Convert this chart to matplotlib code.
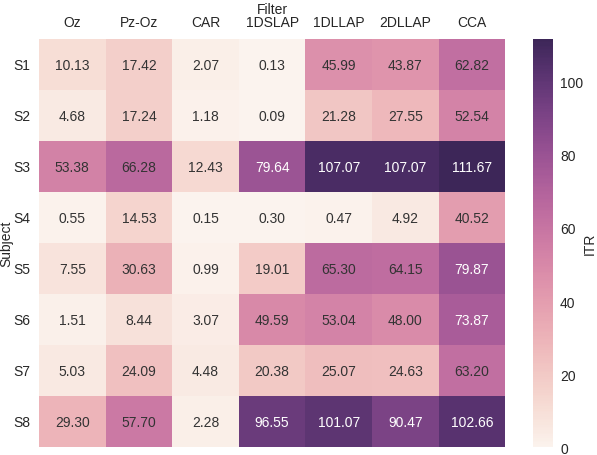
import numpy as np
import matplotlib
matplotlib.use("Agg")
import matplotlib.pyplot as plt
import seaborn as sns

filters = ["Oz", "Pz-Oz", "CAR", "1DSLAP", "1DLLAP", "2DLLAP", "CCA"]
subjects = ["S1", "S2", "S3", "S4", "S5", "S6", "S7", "S8"]
oz     = [10.13, 4.68, 53.38, 0.55, 7.55, 1.51, 5.03, 29.30]
pz_oz  = [17.42, 17.24, 66.28, 14.53, 30.63, 8.44, 24.09, 57.70]
car    = [2.07, 1.18, 12.43, 0.15, 0.99, 3.07, 4.48, 2.28]
dslap1 = [0.13, 0.09, 79.64, 0.30, 19.01, 49.59, 20.38, 96.55]
dllap1 = [45.99, 21.28, 107.07, 0.47, 65.30, 53.04, 25.07, 101.07]
dllap2 = [43.87, 27.55, 107.07, 4.92, 64.15, 48.00, 24.63, 90.47]
cca    = [62.82, 52.54, 111.67, 40.52, 79.87, 73.87, 63.20, 102.66]

data = np.array([oz, pz_oz, car, dslap1, dllap1, dllap2, cca]).T

sns.set_style("white")
plt.rcParams['font.family'] = ['Liberation Sans', 'DejaVu Sans']
plt.rcParams['text.color'] = '.15'
plt.rcParams['axes.labelcolor'] = '.15'
plt.rcParams['xtick.color'] = '.15'
plt.rcParams['ytick.color'] = '.15'

fig = plt.figure(figsize=(5.97, 4.56), dpi=100)
ax = fig.add_axes([0.0653, 0.017, 0.781, 0.895])
cax = fig.add_axes([0.893, 0.017, 0.0335, 0.895])

cmap = sns.cubehelix_palette(light=.95, dark=.15, hue=1.0, gamma=0.85, as_cmap=True)
sns.heatmap(data, ax=ax, cbar_ax=cax, cmap=cmap, vmin=0, vmax=data.max(),
            annot=True, fmt=".2f", annot_kws={"fontsize": 10},
            xticklabels=filters, yticklabels=subjects,
            cbar_kws={"ticks": [0, 20, 40, 60, 80, 100]})
flat = data.ravel()
for t, v in zip(ax.texts, flat):
    t.set_color("white" if v > 70 else ".2")
ax.xaxis.tick_top()
ax.xaxis.set_label_position("top")
ax.set_xlabel("Filter", fontsize=10, labelpad=2)
ax.set_ylabel("Subject", fontsize=10, labelpad=0)
ax.tick_params(axis="both", length=0, labelsize=10, pad=7)
ax.tick_params(axis="y", pad=6)
plt.setp(ax.get_yticklabels(), rotation=0)
plt.setp(ax.get_xticklabels(), rotation=0)
cax.tick_params(length=0, labelsize=10, pad=5)
cax.set_ylabel("ITR", fontsize=10, labelpad=0)
for s in cax.spines.values():
    s.set_visible(False)
fig.savefig("out.png", dpi=100)
